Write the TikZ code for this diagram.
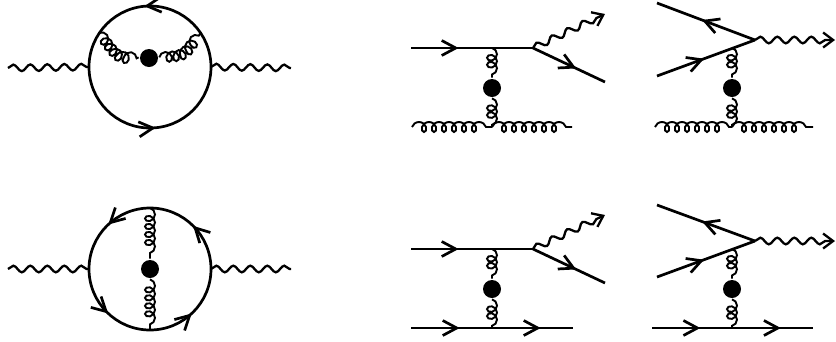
\documentclass[tikz,border=0pt]{standalone}
\usetikzlibrary{decorations.pathmorphing,decorations.markings,arrows.meta}
\tikzset{fbarb/.tip={Straight Barb[length=14pt,width=15pt]}}
\begin{document}
\begin{tikzpicture}[x=1pt, y=1pt, line width=2.7pt,
    fermion/.style={postaction={decorate,decoration={markings,mark=at position #1 with {\arrow{fbarb}}}}},
    photon/.style={line width=2.3pt,decorate,decoration={snake,amplitude=3.3pt,segment length=17pt}},
    photonout/.style={line width=2.3pt,decorate,decoration={snake,amplitude=3.3pt,segment length=17pt,post=lineto,post length=8pt},-{Straight Barb[length=10pt,width=15pt]}},
    gluon/.style={line width=1.9pt,decorate,decoration={coil,amplitude=5pt,segment length=#1,aspect=0.9}},
    gluon/.default=7pt,
    blob/.style={circle,fill,inner sep=0pt,minimum size=18pt},
    loop/.style={circle,inner sep=0pt,outer sep=0pt,minimum size=122pt}]
    \useasboundingbox (0,0) rectangle (836,-341);

    % self-energy with gluon on one side
    \node[loop] (loopA) at (150,-67) {};
    \node[blob] (blobA) at (149,-58) {};
    \coordinate (phA1) at (8,-68);
    \coordinate (phA2) at (291,-68);
    \draw[fermion=0.265, fermion=0.765] (loopA.center) circle (61pt);
    \draw[photon] (phA1) -- (loopA.west);
    \draw[photon] (loopA.east) -- (phA2);
    \draw[gluon] (loopA.146) .. controls (116,-56) .. (blobA);
    \draw[gluon] (blobA) .. controls (182,-56) .. (loopA.34);

    % self-energy with gluon across
    \node[loop] (loopB) at (150,-269) {};
    \node[blob] (blobB) at (150,-269) {};
    \coordinate (phB1) at (8,-269);
    \coordinate (phB2) at (291,-269);
    \draw[fermion=0.125, fermion=0.37, fermion=0.63, fermion=0.87] (loopB.center) circle (61pt);
    \draw[photon] (phB1) -- (loopB.west);
    \draw[photon] (loopB.east) -- (phB2);
    \draw[gluon=8pt] (loopB.north) -- (blobB);
    \draw[gluon=8pt] (blobB) -- (loopB.south);

    % quark line, gluon line below
    \coordinate (qinC) at (411,-48);
    \coordinate (vtxC) at (533,-48);
    \coordinate (gC) at (492,-48);
    \coordinate (phC) at (605,-14);
    \coordinate (qoutC) at (605,-82);
    \node[blob] (blobC) at (492,-88) {};
    \coordinate (jC) at (492,-127);
    \coordinate (glC) at (412,-127);
    \coordinate (grC) at (572,-127);
    \draw[fermion=0.39] (qinC) -- (vtxC);
    \draw[fermion=0.6] (vtxC) -- (qoutC);
    \draw[photonout] (vtxC) -- (phC);
    \draw[gluon] (gC) -- (blobC);
    \draw[gluon] (blobC) -- (jC);
    \draw[gluon=10pt] (glC) -- (jC);
    \draw[gluon=10pt] (jC) -- (grC);

    \coordinate (qaD) at (657,-3);
    \coordinate (vtxD) at (755,-40);
    \coordinate (qbD) at (657,-76);
    \coordinate (phD) at (835,-40);
    \coordinate (gD) at (732,-48);
    \node[blob] (blobD) at (732,-88) {};
    \coordinate (jD) at (732,-127);
    \coordinate (glD) at (655,-127);
    \coordinate (grD) at (813,-127);
    \draw[fermion=0.54] (vtxD) -- (qaD);
    \draw[fermion=0.48] (qbD) -- (vtxD);
    \draw[photonout] (vtxD) -- (phD);
    \draw[gluon] (gD) -- (blobD);
    \draw[gluon] (blobD) -- (jD);
    \draw[gluon=10pt] (glD) -- (jD);
    \draw[gluon=10pt] (jD) -- (grD);

    % quark line, quark line below
    \coordinate (qinE) at (411,-249);
    \coordinate (vtxE) at (533,-249);
    \coordinate (gE) at (492,-249);
    \coordinate (phE) at (605,-215);
    \coordinate (qoutE) at (605,-283);
    \node[blob] (blobE) at (492,-289) {};
    \coordinate (jE) at (492,-328);
    \coordinate (qlE) at (411,-328);
    \coordinate (qrE) at (573,-328);
    \draw[fermion=0.39] (qinE) -- (vtxE);
    \draw[fermion=0.6] (vtxE) -- (qoutE);
    \draw[photonout] (vtxE) -- (phE);
    \draw[gluon] (gE) -- (blobE);
    \draw[gluon] (blobE) -- (jE);
    \draw[fermion=0.3, fermion=0.8] (qlE) -- (qrE);

    \coordinate (qaF) at (657,-205);
    \coordinate (vtxF) at (755,-241);
    \coordinate (qbF) at (657,-277);
    \coordinate (phF) at (835,-241);
    \coordinate (gF) at (732,-249);
    \node[blob] (blobF) at (732,-289) {};
    \coordinate (jF) at (732,-328);
    \coordinate (qlF) at (652,-328);
    \coordinate (qrF) at (813,-328);
    \draw[fermion=0.54] (vtxF) -- (qaF);
    \draw[fermion=0.48] (qbF) -- (vtxF);
    \draw[photonout] (vtxF) -- (phF);
    \draw[gluon] (gF) -- (blobF);
    \draw[gluon] (blobF) -- (jF);
    \draw[fermion=0.3, fermion=0.8] (qlF) -- (qrF);
\end{tikzpicture}
\end{document}
